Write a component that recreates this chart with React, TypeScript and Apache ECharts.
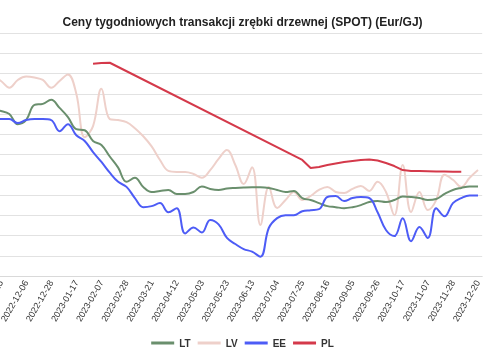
import React, { useEffect, useRef } from "react";
import * as echarts from "echarts";

const title = "Ceny tygodniowych transakcji zrębki drzewnej (SPOT) (Eur/GJ)";

const categories = [
  "2022-10-25", "2022-11-01", "2022-11-08", "2022-11-15", "2022-11-22", "2022-11-29",
  "2022-12-06", "2022-12-13", "2022-12-20", "2022-12-28", "2023-01-03", "2023-01-10",
  "2023-01-17", "2023-01-24", "2023-01-31", "2023-02-07", "2023-02-14", "2023-02-21",
  "2023-02-28", "2023-03-07", "2023-03-14", "2023-03-21", "2023-03-28", "2023-04-04",
  "2023-04-12", "2023-04-18", "2023-04-25", "2023-05-03", "2023-05-09", "2023-05-16",
  "2023-05-23", "2023-05-30", "2023-06-06", "2023-06-13", "2023-06-20", "2023-06-27",
  "2023-07-04", "2023-07-11", "2023-07-18", "2023-07-25", "2023-08-01", "2023-08-08",
  "2023-08-16", "2023-08-22", "2023-08-29", "2023-09-05", "2023-09-12", "2023-09-19",
  "2023-09-26", "2023-10-03", "2023-10-10", "2023-10-17", "2023-10-24", "2023-10-31",
  "2023-11-07", "2023-11-14", "2023-11-21", "2023-11-28", "2023-12-05", "2023-12-12",
  "2023-12-20",
];

const ltValues = [
  10.4, 10.3, 10.2, 10.15, 10.0, 9.5, 9.7, 10.45, 10.5, 10.7, 10.3, 9.85,
  9.25, 9.2, 8.67, 8.47, 7.9, 7.35, 6.65, 6.85, 6.4, 6.15, 6.2, 6.25,
  6.05, 6.05, 6.15, 6.42, 6.3, 6.25, 6.32, 6.35, 6.37, 6.38, 6.38, 6.35,
  6.25, 6.15, 6.2, 5.85, 5.75, 5.6, 5.45, 5.4, 5.35, 5.4, 5.5, 5.65,
  5.7, 5.65, 5.75, 5.92, 5.9, 5.85, 5.75, 5.8, 6.05, 6.25, 6.35, 6.42,
  6.42,
];

const lvValues = [
  11.5, 11.7, 11.85, 11.63, 11.3, 11.68, 11.85, 11.8, 11.68, 11.3, 11.63, 11.95,
  11.0, 8.85, 9.4, 11.25, 9.75, 9.7, 9.6, 9.3, 8.9, 8.4, 7.73, 7.19,
  7.14, 7.14, 7.04, 6.85, 7.23, 7.78, 8.22, 7.48, 6.54, 7.37, 4.52, 6.4,
  5.36, 5.75, 6.15, 5.75, 5.95, 6.25, 6.4, 6.15, 6.1, 6.3, 6.45, 6.2,
  6.65, 6.15, 5.0, 7.48, 5.16, 6.15, 5.26, 5.75, 7.0, 6.75, 6.4, 6.85,
  7.23,
];

const eeValues = [
  9.75, 9.75, 9.75, 9.75, 9.75, 9.55, 9.7, 9.75, 9.75, 9.7, 9.15, 9.5,
  8.95, 8.67, 8.12, 7.63, 7.1, 6.65, 6.4, 5.85, 5.4, 5.45, 5.6, 5.15,
  5.35, 4.1, 4.4, 4.15, 4.77, 4.55, 3.88, 3.58, 3.33, 3.2, 2.95, 4.37,
  4.86, 5.0, 5.0, 5.2, 5.25, 5.3, 5.9, 5.95, 5.7, 5.85, 5.9, 5.85,
  5.15, 4.27, 3.97, 4.85, 3.72, 4.42, 3.88, 5.35, 4.95, 5.6, 5.85, 5.98,
  5.98,
];

const plValues: (number | null)[] = [
  null, null, null, null, null, null, null, null, null, null, null, null,
  null, null, 12.48, 12.52, 12.53, null, null, null, null, null, null, null,
  null, null, null, null, null, null, null, null, null, null, null, null,
  null, null, null, 7.73, 7.33, 7.38, 7.48, 7.56, 7.63, 7.68, 7.73, 7.75,
  7.7, 7.58, 7.43, 7.23, 7.19, 7.18, 7.17, 7.16, 7.16, 7.15, 7.15, null,
  null,
];

const seriesNames = ["LT", "LV", "EE", "PL"];
const colors = ["#6a8f6d", "#eed0ca", "#4d5cf6", "#d4394a"];

const FONT = "'Liberation Sans', Arial, Helvetica, sans-serif";

export default function App() {
  const ref = useRef<HTMLDivElement>(null);

  useEffect(() => {
    document.body.style.margin = "0";
    if (!ref.current) return;
    const chart = echarts.init(ref.current, null, { renderer: "svg" });

    let lastPl = -1;
    plValues.forEach((v, i) => {
      if (v !== null) lastPl = i;
    });
    const plData = plValues.map((v, i) =>
      i === lastPl && v !== null
        ? {
            value: v,
            label: {
              show: true,
              position: "top",
              offset: [10, 3],
              formatter: (p: any) => String(p.value).replace(".", ","),
              color: "#444",
              fontSize: 11,
              fontFamily: FONT,
            },
          }
        : v
    );

    const dataSets = [ltValues, lvValues, eeValues, plData];

    chart.setOption({
      animation: false,
      color: colors,
      textStyle: { fontFamily: FONT },
      title: {
        text: title,
        left: "center",
        top: 11,
        textStyle: { fontSize: 12, fontWeight: "bold", color: "#222", fontFamily: FONT },
      },
      legend: {
        data: seriesNames,
        bottom: 7,
        left: "center",
        icon: "rect",
        itemWidth: 23,
        itemHeight: 3,
        itemGap: 7,
        textStyle: { fontSize: 10, fontWeight: "bold", color: "#333", fontFamily: FONT },
      },
      grid: {
        left: -28.3,
        right: 2.8,
        top: 33,
        bottom: 84,
        containLabel: false,
        outerBoundsMode: "none",
      },
      xAxis: {
        type: "category",
        data: categories,
        boundaryGap: true,
        axisLine: { show: true, lineStyle: { color: "#d9d9d9" } },
        axisTick: { show: false },
        axisLabel: {
          interval: 2,
          rotate: 60,
          fontSize: 9,
          color: "#333",
          margin: 5,
          fontFamily: FONT,
        },
      },
      yAxis: {
        type: "value",
        min: 2,
        max: 14,
        interval: 1,
        axisLabel: { show: false },
        axisLine: { show: false },
        axisTick: { show: false },
        splitLine: { lineStyle: { color: "#e2e2e2", width: 1 } },
      },
      series: seriesNames.map((name, k) => ({
        name,
        type: "line",
        data: dataSets[k],
        smooth: k === 3 ? false : 0.4,
        connectNulls: true,
        showSymbol: false,
        symbol: "none",
        lineStyle: { width: 2, color: colors[k] },
        itemStyle: { color: colors[k] },
        z: k === 1 ? 1 : 2 + k,
      })),
    });

    return () => chart.dispose();
  }, []);

  return (
    <div
      ref={ref}
      style={{ position: "fixed", left: 0, top: 0, width: 485, height: 360 }}
    />
  );
}
